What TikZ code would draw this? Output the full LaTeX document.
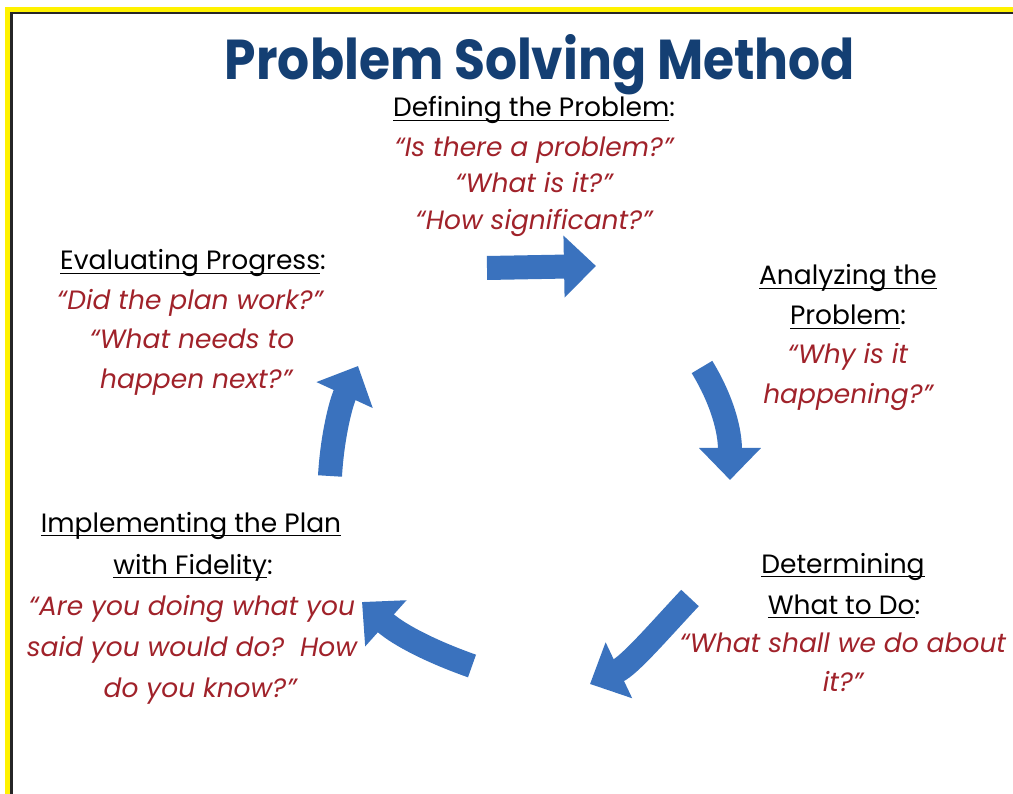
\documentclass[tikz,border=0pt]{standalone}
\usepackage{fontspec}
\usepackage{graphicx}
\setmainfont{Poppins}
\usetikzlibrary{arrows.meta}
\definecolor{navy}{HTML}{143F73}
\definecolor{qred}{HTML}{A0222A}
\definecolor{ablue}{HTML}{3A72BE}
\newcommand\ulx[1]{\setbox0\hbox{#1}\rlap{\rule[-4pt]{\wd0}{1.2pt}}\box0}
\tikzset{
  lab/.style={anchor=base, inner sep=0pt, font=\fontsize{26.5}{30}\selectfont, text=black},
  quo/.style={anchor=base, inner sep=0pt, font=\fontsize{26.5}{30}\selectfont\itshape, text=qred},
  bigarrow/.style={draw=ablue, line width=24pt, -{Triangle[length=32pt,width=60pt]}},
}
\begin{document}
\begin{tikzpicture}[x=1pt,y=-1pt]
\useasboundingbox (0,0) rectangle (1013,794);
\begin{scope}
\clip (0,0) rectangle (1013,794);
\fill[yellow] (5,7) rectangle (1030,810);
\fill[black!85] (10,12) rectangle (1030,810);
\fill[white] (12.5,14.5) rectangle (1030,810);
\end{scope}
% title
\node[anchor=base, inner sep=0pt, text=navy] (title) at (540,80)
  {\resizebox{630pt}{45pt}{\bfseries Problem Solving Method}};
% top block
\node[lab] (t0) at (534,117) {\ulx{Defining the Problem}:};
\node[quo] (t1) at (534,157) {“Is there a problem?”};
\node[quo] (t2) at (534,193) {“What is it?”};
\node[quo] (t3) at (534,230) {“How significant?”};
% evaluating
\node[lab] (e0) at (193,270) {\ulx{Evaluating Progress}:};
\node[quo] (e1) at (190,310) {“Did the plan work?”};
\node[quo] (e2) at (192,349) {“What needs to};
\node[quo] (e3) at (196,389) {happen next?”};
% analyzing
\node[lab] (a0) at (848,285) {\ulx{Analyzing the}};
\node[lab] (a1) at (848,325) {\ulx{Problem}:};
\node[quo] (a2) at (848,364) {“Why is it};
\node[quo] (a3) at (848,404) {happening?”};
% implementing
\node[lab] (i0) at (191,532) {\ulx{Implementing the Plan}};
\node[lab] (i1) at (193,574) {\ulx{with Fidelity}:};
\node[quo] (i2) at (192,615) {“Are you doing what you};
\node[quo] (i3) at (192,656) {said you would do?\ \ How};
\node[quo] (i4) at (200,697) {do you know?”};
% determining
\node[lab] (d0) at (843,573) {\ulx{Determining}};
\node[lab] (d1) at (844,614) {\ulx{What to Do}:};
\node[quo] (d2) at (843,652) {“What shall we do about};
\node[quo] (d3) at (843,691) {it?”};
% arrows
\coordinate (ta) at (487,268);
\coordinate (tb) at (596,266);
\coordinate (ra) at (702,367);
\coordinate (rb) at (730,480);
\coordinate (ba) at (690,598);
\coordinate (bb) at (590,684);
\coordinate (la) at (472,666);
\coordinate (lb) at (362,602);
\coordinate (ua) at (330,476);
\coordinate (ub) at (358,366);
\draw[bigarrow] (ta) -- (tb);
\draw[bigarrow] (ra) .. controls (722,400) and (730,430) .. (rb);
\draw[bigarrow] (ba) .. controls (660,630) and (630,665) .. (bb);
\draw[bigarrow] (la) .. controls (435,653) and (400,636) .. (lb);
\draw[bigarrow] (ua) .. controls (332,440) and (340,405) .. (ub);
\end{tikzpicture}
\end{document}
